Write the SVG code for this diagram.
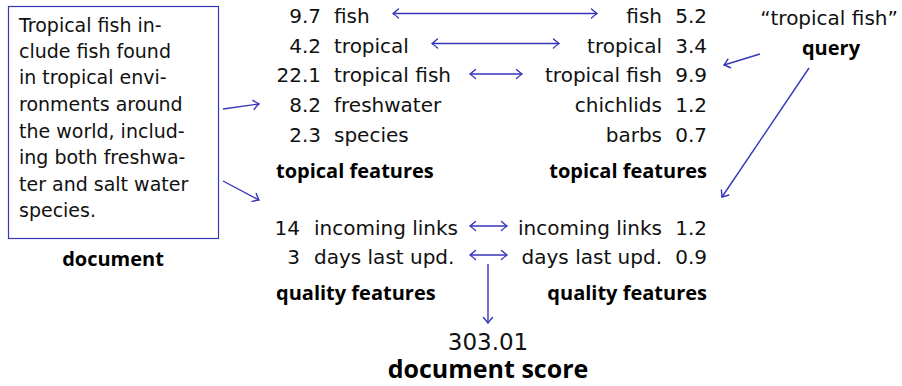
<svg xmlns="http://www.w3.org/2000/svg" width="902" height="386" viewBox="0 0 902 386">
<style>
.t{font-family:"DejaVu Sans",sans-serif;font-size:20px;fill:#111}
.b{font-family:"Open Sans","DejaVu Sans",sans-serif;font-weight:bold;font-size:20px;fill:#000}
.d{font-family:"DejaVu Sans",sans-serif;font-size:19px;fill:#111}
.r{text-anchor:end}
.m{text-anchor:middle}
.c{stroke:#3636b8;stroke-width:1.4;fill:none}
</style>
<defs>
<marker id="ah" viewBox="-7 -6 9 12" refX="0" refY="0" markerWidth="9" markerHeight="12" markerUnits="userSpaceOnUse" orient="auto-start-reverse">
<path d="M -5.5 -4.5 Q -1.5 -1 0 0 Q -1.5 1 -5.5 4.5" fill="none" stroke="#3636b8" stroke-width="1.4" stroke-linecap="round"/>
</marker>
</defs>
<g id="document">
<rect x="8.5" y="6.5" width="210" height="232" fill="none" stroke="#3636b8" stroke-width="1.2"/>
<text class="d" x="19" y="32">Tropical fish in-</text>
<text class="d" x="19" y="58">clude fish found</text>
<text class="d" x="19" y="84">in tropical envi-</text>
<text class="d" x="19" y="111">ronments around</text>
<text class="d" x="19" y="138">the world, includ-</text>
<text class="d" x="19" y="164">ing both freshwa-</text>
<text class="d" x="19" y="191">ter and salt water</text>
<text class="d" x="19" y="217">species.</text>
<text class="b m" x="113" y="266">document</text>
</g>
<g id="doc-topical">
<text class="t r" x="321" y="23">9.7</text><text class="t" x="334" y="23">fish</text>
<text class="t r" x="321" y="53">4.2</text><text class="t" x="334" y="53">tropical</text>
<text class="t r" x="321" y="82">22.1</text><text class="t" x="334" y="82">tropical fish</text>
<text class="t r" x="321" y="112">8.2</text><text class="t" x="334" y="112">freshwater</text>
<text class="t r" x="321" y="142">2.3</text><text class="t" x="334" y="142">species</text>
<text class="b" x="276" y="178">topical features</text>
</g>
<g id="query-topical">
<text class="t r" x="662" y="23">fish</text><text class="t r" x="707" y="23">5.2</text>
<text class="t r" x="662" y="53">tropical</text><text class="t r" x="707" y="53">3.4</text>
<text class="t r" x="662" y="82">tropical fish</text><text class="t r" x="707" y="82">9.9</text>
<text class="t r" x="662" y="112">chichlids</text><text class="t r" x="707" y="112">1.2</text>
<text class="t r" x="662" y="142">barbs</text><text class="t r" x="707" y="142">0.7</text>
<text class="b r" x="707" y="178">topical features</text>
</g>
<g id="doc-quality">
<text class="t r" x="300" y="235">14</text><text class="t" x="314" y="235">incoming links</text>
<text class="t r" x="300" y="264">3</text><text class="t" x="314" y="264">days last upd.</text>
<text class="b" x="276" y="300">quality features</text>
</g>
<g id="query-quality">
<text class="t r" x="662" y="235">incoming links</text><text class="t r" x="707" y="235">1.2</text>
<text class="t r" x="662" y="264">days last upd.</text><text class="t r" x="707" y="264">0.9</text>
<text class="b r" x="707" y="300">quality features</text>
</g>
<g id="query">
<text class="t m" x="829" y="25">“tropical fish”</text>
<text class="b m" x="831" y="55">query</text>
</g>
<g id="score">
<text class="t m" x="488" y="350" style="font-size:23px">303.01</text>
<text class="b m" x="488" y="378" style="font-size:25px">document score</text>
</g>
<g id="connectors">
<line class="c" x1="393" y1="13.5" x2="597" y2="13.5" marker-start="url(#ah)" marker-end="url(#ah)"/>
<line class="c" x1="432" y1="43.5" x2="559" y2="43.5" marker-start="url(#ah)" marker-end="url(#ah)"/>
<line class="c" x1="470" y1="74" x2="522" y2="74" marker-start="url(#ah)" marker-end="url(#ah)"/>
<line class="c" x1="470" y1="226" x2="507" y2="226" marker-start="url(#ah)" marker-end="url(#ah)"/>
<line class="c" x1="470" y1="255" x2="507" y2="255" marker-start="url(#ah)" marker-end="url(#ah)"/>
<line class="c" x1="488" y1="264" x2="488" y2="323" marker-end="url(#ah)"/>
<line class="c" x1="223" y1="109" x2="259" y2="104" marker-end="url(#ah)"/>
<line class="c" x1="223" y1="181" x2="259" y2="200" marker-end="url(#ah)"/>
<line class="c" x1="760" y1="54" x2="724" y2="65" marker-end="url(#ah)"/>
<line class="c" x1="809" y1="68" x2="722" y2="197" marker-end="url(#ah)"/>
</g>
</svg>
